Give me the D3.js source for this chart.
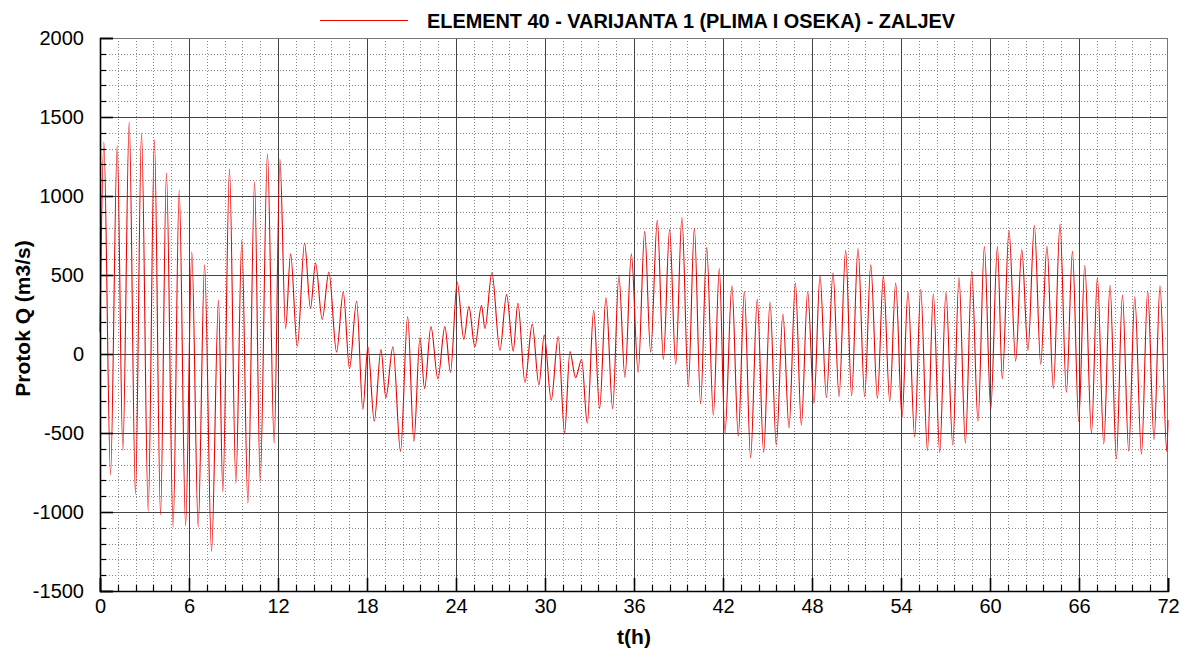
<!DOCTYPE html>
<html>
<head>
<meta charset="utf-8">
<script src="https://cdn.jsdelivr.net/npm/d3@7"></script>
<style>
  html, body { margin: 0; padding: 0; background: #fff; }
  svg { display: block; font-family: "Liberation Sans", Arial, sans-serif; }
</style>
</head>
<body>
<svg id="chart" width="1193" height="659"></svg>
<script>
// ---- data (successive extrema of the flow series) ----
const timeH = [0, 0.26, 0.71, 1.16, 1.54, 1.97, 2.39, 2.80, 3.25, 3.67, 4.08, 4.48, 4.93, 5.34, 5.77, 6.19, 6.62, 7.05, 7.52, 7.99, 8.28, 8.73, 9.16, 9.56, 9.97, 10.42, 10.80, 11.29, 11.74, 12.13,
  12.51, 12.85, 13.30, 13.79, 14.19, 14.53, 14.98, 15.43, 15.95, 16.40, 16.82, 17.30, 17.72, 18.06, 18.49, 18.94, 19.27, 19.75, 20.26, 20.74, 21.16, 21.57, 21.88, 22.31, 22.78, 23.25, 23.63, 24.08,
  24.53, 24.87, 25.27, 25.72, 25.95, 26.42, 26.96, 27.41, 27.86, 28.17, 28.65, 29.14, 29.59, 29.95, 30.42, 30.89, 31.32, 31.68, 32.06, 32.47, 32.85, 33.28, 33.68, 34.11, 34.56, 34.98, 35.39, 35.82, 36.28,
  36.72, 37.12, 37.57, 37.98, 38.40, 38.81, 39.23, 39.66, 40.07, 40.49, 40.90, 41.35, 41.75, 42.13, 42.60, 43.03, 43.44, 43.86, 44.31, 44.74, 45.17, 45.59, 46.04, 46.45, 46.88, 47.28, 47.71, 48.13, 48.54,
  48.97, 49.42, 49.82, 50.27, 50.67, 51.10, 51.55, 51.96, 52.41, 52.81, 53.24, 53.64, 54.07, 54.47, 54.92, 55.33, 55.78, 56.18, 56.61, 57.03, 57.49, 57.91, 58.34, 58.77, 59.19, 59.62, 60.05, 60.50,
  60.83, 61.28, 61.73, 62.14, 62.56, 62.99, 63.42, 63.84, 64.27, 64.72, 65.15, 65.56, 65.98, 66.39, 66.84, 67.24, 67.67, 68.09, 68.52, 68.93, 69.35, 69.76, 70.21, 70.63, 71.06, 71.46, 71.92, 72.0];

const flowQ = [140, 1341, -765, 1318, -610, 1468, -887, 1399, -995, 1355, -1018, 1145, -1094, 1037, -1087, 645, -1094, 564, -1249, 341, -871, 1170, -818, 719, -945, 1090, -806, 1267, -564, 1233,
  161, 634, 46, 703, 288, 576, 219, 518, 12, 392, -92, 334, -350, 46, -426, 28, -276, 46, -617, 237, -553, 104, -219, 173, -157, 173, -115, 456,
  92, 300, 46, 306, 161, 514, 23, 376, 18, 323, -180, 189, -196, 120, -293, 111, -500, 16, -150, -35, -438, 276, -346, 357, -346, 495, -150, 634, -115,
  776, 12, 846, -35, 790, -65, 864, -207, 795, -316, 673, -387, 541, -502, 431, -518, 396, -657, 346, -622, 329, -576, 253, -468, 449, -449, 396, -311, 495,
  -276, 514, -270, 657, -265, 668, -270, 564, -281, 495, -300, 449, -403, 396, -525, 408, -611, 380, -622, 392, -576, 484, -564, 525, -426, 680, -346, 680,
  -157, 783, -46, 661, 23, 813, -65, 684, -219, 823, -242, 650, -426, 560, -502, 484, -569, 433, -664, 373, -615, 362, -634, 399, -541, 431, -617, -420];

const xTicks = [0, 6, 12, 18, 24, 30, 36, 42, 48, 54, 60, 66, 72];
const yTicks = [-1500, -1000, -500, 0, 500, 1000, 1500, 2000];
const seriesName = "ELEMENT 40 - VARIJANTA 1 (PLIMA I OSEKA) - ZALJEV";
const xTitle = "t(h)";
const yTitle = "Protok Q (m3/s)";

// ---- layout ----
const svg = d3.select("#chart");
const L = 100, R = 1168, T = 38, B = 591;
const x = d3.scaleLinear().domain([0, 72]).range([L, R]);
const y = d3.scaleLinear().domain([-1500, 2000]).range([B, T]);

const xMinor = d3.range(0, 72.0001, 1.2).filter(v => !xTicks.some(t => Math.abs(t - v) < 1e-6));
const yMinor = d3.range(-1500, 2001, 100).filter(v => !yTicks.includes(v));

// minor grid (dotted)
const g = svg.append("g");
g.selectAll(".vminor").data(xMinor).enter().append("line")
  .attr("x1", d => Math.round(x(d)) + 0.5).attr("x2", d => Math.round(x(d)) + 0.5)
  .attr("y1", T).attr("y2", B)
  .attr("stroke", "#8a8a8a").attr("stroke-width", 1).attr("stroke-dasharray", "1,2");
g.selectAll(".hminor").data(yMinor).enter().append("line")
  .attr("x1", L).attr("x2", R)
  .attr("y1", d => Math.round(y(d)) + 0.5).attr("y2", d => Math.round(y(d)) + 0.5)
  .attr("stroke", "#8a8a8a").attr("stroke-width", 1).attr("stroke-dasharray", "1,2");

// major grid (solid)
g.selectAll(".vmajor").data(xTicks.slice(1, -1)).enter().append("line")
  .attr("x1", d => Math.round(x(d)) + 0.5).attr("x2", d => Math.round(x(d)) + 0.5)
  .attr("y1", T).attr("y2", B)
  .attr("stroke", "#444").attr("stroke-width", 1);
g.selectAll(".hmajor").data(yTicks.slice(1, -1)).enter().append("line")
  .attr("x1", L).attr("x2", R)
  .attr("y1", d => Math.round(y(d)) + 0.5).attr("y2", d => Math.round(y(d)) + 0.5)
  .attr("stroke", "#444").attr("stroke-width", 1);

// top and right frame (grey)
svg.append("line").attr("x1", L).attr("x2", R).attr("y1", T + 0.5).attr("y2", T + 0.5).attr("stroke", "#777");
svg.append("line").attr("x1", R - 0.5).attr("x2", R - 0.5).attr("y1", T).attr("y2", B).attr("stroke", "#777");

// data line
const pts = timeH.map((t, i) => [t, flowQ[i]]);
const line = d3.line().x(d => x(d[0])).y(d => y(d[1])).curve(d3.curveMonotoneX);
svg.append("path").datum(pts)
  .attr("d", line)
  .attr("fill", "none")
  .attr("stroke", "#ee0000")
  .attr("stroke-width", 1.1);

// axes with inward ticks
const fontSize = 20;
const fmt = d => String(d);
const xAxis = svg.append("g").attr("transform", `translate(0,${B})`)
  .call(d3.axisBottom(x).tickValues(xTicks).tickSize(-13).tickPadding(22).tickFormat(fmt));
const yAxis = svg.append("g").attr("transform", `translate(${L},0)`)
  .call(d3.axisLeft(y).tickValues(yTicks).tickSize(-13).tickPadding(30).tickFormat(fmt));
[xAxis, yAxis].forEach(a => {
  a.select(".domain").attr("stroke", "#000").attr("stroke-width", 1.6);
  a.selectAll(".tick line").attr("stroke", "#000").attr("stroke-width", 1.6);
  a.selectAll("text").attr("font-size", fontSize).attr("fill", "#000")
    .attr("font-family", "'Liberation Sans', Arial, sans-serif");
});
xAxis.selectAll("text").attr("dy", "0.35em").attr("y", 15);
yAxis.selectAll("text").attr("x", -16);

// minor ticks
svg.append("g").selectAll("line").data(xMinor).enter().append("line")
  .attr("x1", d => Math.round(x(d)) + 0.5).attr("x2", d => Math.round(x(d)) + 0.5)
  .attr("y1", B).attr("y2", B - 6).attr("stroke", "#000").attr("stroke-width", 1.2);
svg.append("g").selectAll("line").data(yMinor).enter().append("line")
  .attr("y1", d => Math.round(y(d)) + 0.5).attr("y2", d => Math.round(y(d)) + 0.5)
  .attr("x1", L).attr("x2", L + 6).attr("stroke", "#000").attr("stroke-width", 1.2);

// axis titles
svg.append("text").attr("x", (L + R) / 2).attr("y", 644).attr("text-anchor", "middle")
  .attr("font-size", 21).attr("font-weight", "bold").text(xTitle);
svg.append("text").attr("transform", `translate(30,${(T + B) / 2 + 4}) rotate(-90)`)
  .attr("text-anchor", "middle").attr("font-size", 21).attr("font-weight", "bold").text(yTitle);

// legend / title
svg.append("line").attr("x1", 320).attr("x2", 408).attr("y1", 20.5).attr("y2", 20.5)
  .attr("stroke", "#ee0000").attr("stroke-width", 1.2);
svg.append("text").attr("x", 427).attr("y", 28).attr("font-size", 20).attr("font-weight", "bold")
  .attr("textLength", 528).attr("lengthAdjust", "spacingAndGlyphs")
  .text(seriesName);
</script>
</body>
</html>
